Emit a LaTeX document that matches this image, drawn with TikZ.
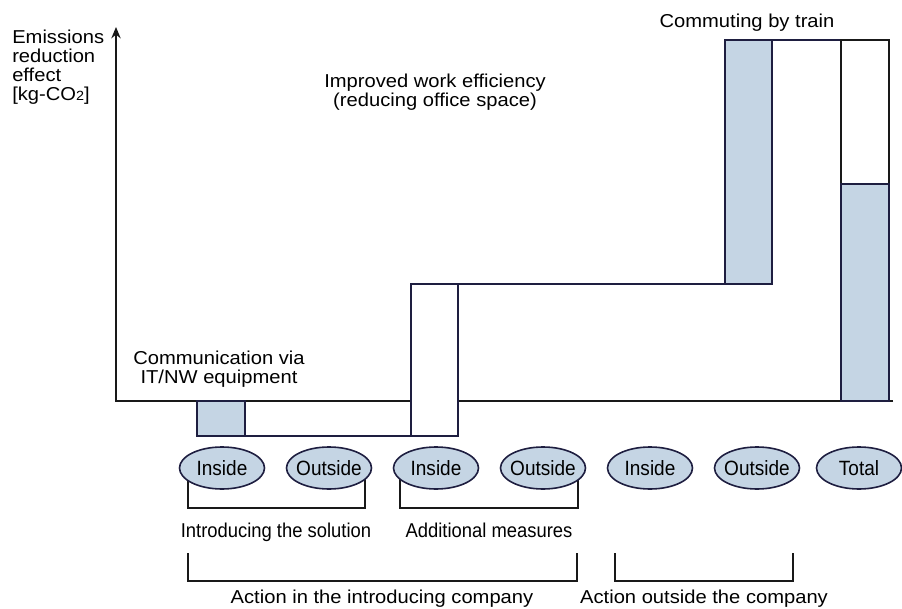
\documentclass[tikz,border=0pt]{standalone}
\usepackage{fontspec}
\setmainfont{Liberation Sans}
\newfontfamily\wideface[FakeStretch=1.08]{Liberation Sans}
\newfontfamily\narrowface[FakeStretch=0.92]{Liberation Sans}
\usetikzlibrary{shapes.geometric,arrows.meta}
\pgfdeclarelayer{background}
\pgfsetlayers{background,main}
\definecolor{paleblue}{HTML}{C5D5E4}
\definecolor{navy}{HTML}{1E1E40}

\begin{document}
\begin{tikzpicture}[x=0.75pt,y=-0.75pt,
  oval/.style={shape=ellipse,draw=navy,fill=paleblue,line width=1.2pt,minimum width=63.75pt,minimum height=31.5pt,inner sep=0pt,font=\narrowface\fontsize{15.5}{15.5}\selectfont},
  caption/.style={inner sep=0pt,font=\narrowface\fontsize{15}{15}\selectfont},
  headline/.style={inner sep=0pt,align=center,font=\wideface\fontsize{14}{14.25}\selectfont},
  bar/.style={draw=navy,line width=1.3pt},
  axis/.style={draw=black!90,line width=1.3pt}]
  \useasboundingbox (0,0) rectangle (902,609);

  \draw[axis,-{Stealth[length=8.5pt,width=7pt]}] (893,401) -- (116,401) -- (116,27);
  \filldraw[bar,fill=paleblue] (197,401) rectangle (245,436);
  \draw[bar] (245,436) -- (411,436);
  \filldraw[bar,fill=white] (411,284) rectangle (458,436);
  \draw[bar] (458,284) -- (725,284);
  \filldraw[bar,fill=paleblue] (725,40) rectangle (772,284);
  \draw[bar] (772,40) -- (841,40);
  \draw[axis] (841,40) rectangle (889,184);
  \filldraw[bar,fill=paleblue] (841,184) rectangle (889,401);

  \node[headline,anchor=north west,align=left] (axisLabel) at (12,29.5) {Emissions\\reduction\\effect\\{[}kg-CO{\fontsize{10}{10}\selectfont 2}]};
  \node[headline,anchor=north] (efficiencyLabel) at (435,73.5) {Improved work efficiency\\(reducing office space)};
  \node[headline,anchor=north] (trainLabel) at (747,13.5) {Commuting by train};
  \node[headline,anchor=north] (communicationLabel) at (219,350.5) {Communication via\\IT/NW equipment};

  \node[oval] (solutionInside) at (222,468) {\makebox[0pt]{Inside}};
  \node[oval] (solutionOutside) at (329,468) {\makebox[0pt]{Outside}};
  \node[oval] (measuresInside) at (436,468) {\makebox[0pt]{Inside}};
  \node[oval] (measuresOutside) at (543,468) {\makebox[0pt]{Outside}};
  \node[oval] (commuteInside) at (650,468) {\makebox[0pt]{Inside}};
  \node[oval] (commuteOutside) at (757,468) {\makebox[0pt]{Outside}};
  \node[oval] (total) at (859,468) {\makebox[0pt]{Total}};

  \begin{pgfonlayer}{background}
    \draw[axis,line width=1.1pt] ([xshift=-25.5pt]solutionInside.center) -- ++(0,40) -| ([xshift=27pt]solutionOutside.center);
    \draw[axis,line width=1.1pt] ([xshift=-27pt]measuresInside.center) -- ++(0,40) -| ([xshift=26.25pt]measuresOutside.center);
  \end{pgfonlayer}

  \node[caption,anchor=base] (solutionLabel) at (276,537) {Introducing the solution};
  \node[caption,anchor=base] (measuresLabel) at (489,537) {Additional measures};

  \coordinate (companyLeft) at (188,553);
  \coordinate (companyRight) at (577,553);
  \coordinate (outsideLeft) at (615,553);
  \coordinate (outsideRight) at (793,553);
  \draw[axis,line width=1.1pt] (companyLeft) -- ++(0,28) -| (companyRight);
  \draw[axis,line width=1.1pt] (outsideLeft) -- ++(0,28) -| (outsideRight);

  \node[headline,anchor=base] (companyLabel) at (382,603) {Action in the introducing company};
  \node[headline,anchor=base] (outsideLabel) at (704,603) {Action outside the company};
\end{tikzpicture}
\end{document}
